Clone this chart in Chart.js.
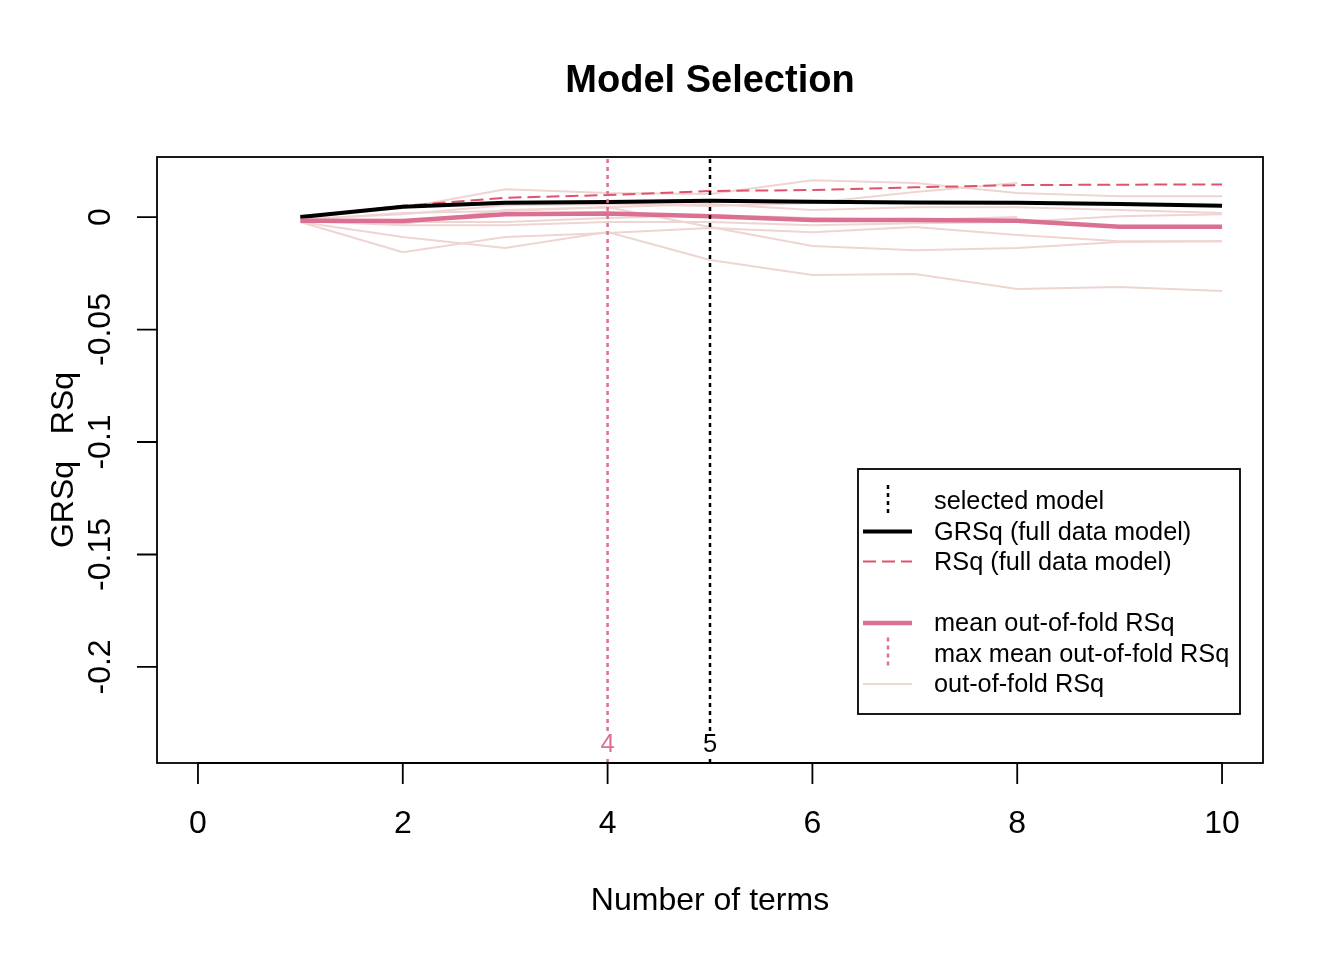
<!DOCTYPE html>
<html>
<head>
<meta charset="utf-8">
<script src="https://cdn.jsdelivr.net/npm/chart.js@4/dist/chart.umd.min.js"></script>
<style>
  html, body { margin: 0; padding: 0; background: #fff; }
  #wrap { width: 1344px; height: 960px; }
</style>
</head>
<body>
<div id="wrap"><canvas id="chart" width="1344" height="960"></canvas></div>
<script>
// number of terms in the model
const terms = [1, 2, 3, 4, 5, 6, 7, 8, 9, 10];

// full data model
const grsq = [0, 0.0046, 0.0064, 0.0067, 0.0072, 0.0068, 0.0065, 0.0064, 0.0058, 0.0050];
const rsq = [0, 0.0050, 0.0086, 0.0098, 0.0116, 0.0120, 0.0132, 0.0142, 0.0144, 0.0145];

// cross validation
const meanOofRsq = [-0.0016, -0.0018, 0.0012, 0.0016, 0.0004, -0.0013, -0.0013, -0.0016, -0.0043, -0.0043];
const fold1 = [-0.0004, 0.0040, 0.0124, 0.0107, 0.0102, 0.0164, 0.0151, 0.0107, 0.0093, 0.0093];
const fold2 = [-0.0009, 0.0013, 0.0053, 0.0058, 0.0049, 0.0062, 0.0111, 0.0151];
const fold3 = [-0.0013, -0.0022, -0.0022, -0.0004, 0.0009, -0.0004, -0.0013, 0];
const fold4 = [-0.0013, 0.0018, 0.0027, 0.0044, 0.0058, 0.0031, 0.0044, 0.0044, 0.0031, 0.0018];
const fold5 = [-0.0018, -0.0036, -0.0036, -0.0022, -0.0022, -0.0036, -0.0027, -0.0022, 0.0004, 0.0013];
const fold6 = [-0.0009, -0.0031, 0.0031, 0.0044, -0.0044, -0.0129, -0.0147, -0.0138, -0.0111, -0.0107];
const fold7 = [-0.0022, -0.0156, -0.0089, -0.0071, -0.0049, -0.0067, -0.0044, -0.0080, -0.0107, -0.0107];
const fold8 = [-0.0022, -0.0089, -0.0138, -0.0067, -0.0191, -0.0258, -0.0253, -0.0320, -0.0311, -0.0329];
const folds = [fold1, fold2, fold3, fold4, fold5, fold6, fold7, fold8];

const selectedTerms = 5;
const maxMeanTerms = 4;

// axis ticks
const xTicks = [0, 2, 4, 6, 8, 10];
const yTicks = [0, -0.05, -0.1, -0.15, -0.2];
const yTickLabels = ['0', '-0.05', '-0.1', '-0.15', '-0.2'];

const legendLabels = ['selected model', 'GRSq (full data model)', 'RSq (full data model)', '',
  'mean out-of-fold RSq', 'max mean out-of-fold RSq', 'out-of-fold RSq'];

const FONT = '"Liberation Sans", Arial, Helvetica, sans-serif';
const BLACK = '#000000';
const RED = '#DF536B';
const PINK = '#DB7093';
const FOLD = '#EED5D2';

const X_MIN = -0.4, X_MAX = 10.4;
const Y_MIN = -0.2427, Y_MAX = 0.0267;

function pts(vals) {
    return vals.map((v, i) => ({ x: terms[i], y: v }));
}

function vline(x) {
    return [{ x: x, y: Y_MIN }, { x: x, y: Y_MAX }];
}

const datasets = [];
folds.forEach((f, i) => {
    datasets.push({ label: 'fold ' + (i + 1), data: pts(f), borderColor: FOLD, borderWidth: 2, order: 10 });
});
datasets.push({ label: 'RSq', data: pts(rsq), borderColor: RED, borderWidth: 2, borderDash: [13, 6], order: 4 });
datasets.push({ label: 'GRSq', data: pts(grsq), borderColor: BLACK, borderWidth: 4, order: 3 });
datasets.push({ label: 'mean oof', data: pts(meanOofRsq), borderColor: PINK, borderWidth: 4.5, order: 2 });
datasets.push({ label: 'max mean', data: vline(maxMeanTerms), borderColor: PINK, borderWidth: 2.5, borderDash: [4, 4], order: 1 });
datasets.push({ label: 'selected', data: vline(selectedTerms), borderColor: BLACK, borderWidth: 2.5, borderDash: [4, 4], order: 0 });

// R style axes, titles and legend
const rPlot = {
    id: 'rPlot',
    afterDraw(chart) {
        const c = chart.ctx;
        const a = chart.chartArea;
        const xs = chart.scales.x, ys = chart.scales.y;
        c.save();

        // labels on the vertical lines
        c.font = '25.6px ' + FONT;
        c.textAlign = 'center';
        c.textBaseline = 'middle';
        [[maxMeanTerms, PINK], [selectedTerms, BLACK]].forEach(([t, col]) => {
            const px = xs.getPixelForValue(t);
            c.fillStyle = '#fff';
            c.fillRect(px - 8, a.bottom - 32, 16, 26);
            c.fillStyle = col;
            c.fillText(String(t), px, a.bottom - 18.5);
        });

        // box
        c.strokeStyle = BLACK;
        c.lineWidth = 1.8;
        c.strokeRect(a.left, a.top, a.right - a.left, a.bottom - a.top);

        // x axis
        c.fillStyle = BLACK;
        c.font = '32px ' + FONT;
        c.textAlign = 'center';
        c.textBaseline = 'middle';
        c.beginPath();
        c.moveTo(xs.getPixelForValue(xTicks[0]), a.bottom);
        c.lineTo(xs.getPixelForValue(xTicks[xTicks.length - 1]), a.bottom);
        xTicks.forEach(t => {
            const px = xs.getPixelForValue(t);
            c.moveTo(px, a.bottom);
            c.lineTo(px, a.bottom + 21);
        });
        c.stroke();
        xTicks.forEach(t => c.fillText(String(t), xs.getPixelForValue(t), 824));

        // y axis
        c.beginPath();
        yTicks.forEach(t => {
            const py = ys.getPixelForValue(t);
            c.moveTo(a.left, py);
            c.lineTo(a.left - 20, py);
        });
        c.stroke();
        yTicks.forEach((t, i) => {
            const py = ys.getPixelForValue(t);
            c.save();
            c.translate(101, py);
            c.rotate(-Math.PI / 2);
            c.fillText(yTickLabels[i], 0, 0);
            c.restore();
        });

        // titles
        c.font = 'bold 38px ' + FONT;
        c.fillText('Model Selection', (a.left + a.right) / 2, 82);
        c.font = '32px ' + FONT;
        c.fillText('Number of terms', (a.left + a.right) / 2, 901);
        c.save();
        c.translate(64, (a.top + a.bottom) / 2);
        c.rotate(-Math.PI / 2);
        c.fillText('GRSq   RSq', 0, 0);
        c.restore();

        // legend
        const lx = 858, ly = 469, lw = 382, lh = 245;
        c.fillStyle = '#fff';
        c.fillRect(lx, ly, lw, lh);
        c.strokeStyle = BLACK;
        c.lineWidth = 1.8;
        c.strokeRect(lx, ly, lw, lh);
        const rowY = [501, 531.5, 561.5, 592, 623, 653.5, 684];
        const sx0 = 863, sx1 = 912, sxm = 888;
        const samples = [
            { col: BLACK, w: 2.5, dash: [4, 4], vertical: true },
            { col: BLACK, w: 4, dash: [] },
            { col: RED, w: 2, dash: [13, 6] },
            null,
            { col: PINK, w: 4.5, dash: [] },
            { col: PINK, w: 2.5, dash: [4, 4], vertical: true },
            { col: FOLD, w: 2, dash: [] }
        ];
        c.font = '25.3px ' + FONT;
        c.textAlign = 'left';
        legendLabels.forEach((lab, i) => {
            const s = samples[i];
            if (s) {
                c.strokeStyle = s.col;
                c.lineWidth = s.w;
                c.setLineDash(s.dash);
                c.beginPath();
                if (s.vertical) {
                    c.moveTo(sxm, rowY[i] - 16);
                    c.lineTo(sxm, rowY[i] + 16);
                } else {
                    c.moveTo(sx0, rowY[i]);
                    c.lineTo(sx1, rowY[i]);
                }
                c.stroke();
                c.setLineDash([]);
            }
            c.fillStyle = BLACK;
            c.fillText(lab, 934, rowY[i] + 1.5);
        });

        c.restore();
    }
};

const ctx = document.getElementById('chart').getContext('2d');
const chart = new Chart(ctx, {
    type: 'line',
    data: { datasets: datasets },
    options: {
        responsive: false,
        animation: false,
        devicePixelRatio: 1,
        layout: { padding: { left: 157, right: 81, top: 157, bottom: 197 } },
        elements: { point: { radius: 0 }, line: { tension: 0 } },
        scales: {
            x: { type: 'linear', min: X_MIN, max: X_MAX, display: false },
            y: { type: 'linear', min: Y_MIN, max: Y_MAX, display: false }
        },
        plugins: { legend: { display: false }, tooltip: { enabled: false } }
    },
    plugins: [rPlot]
});
</script>
</body>
</html>
